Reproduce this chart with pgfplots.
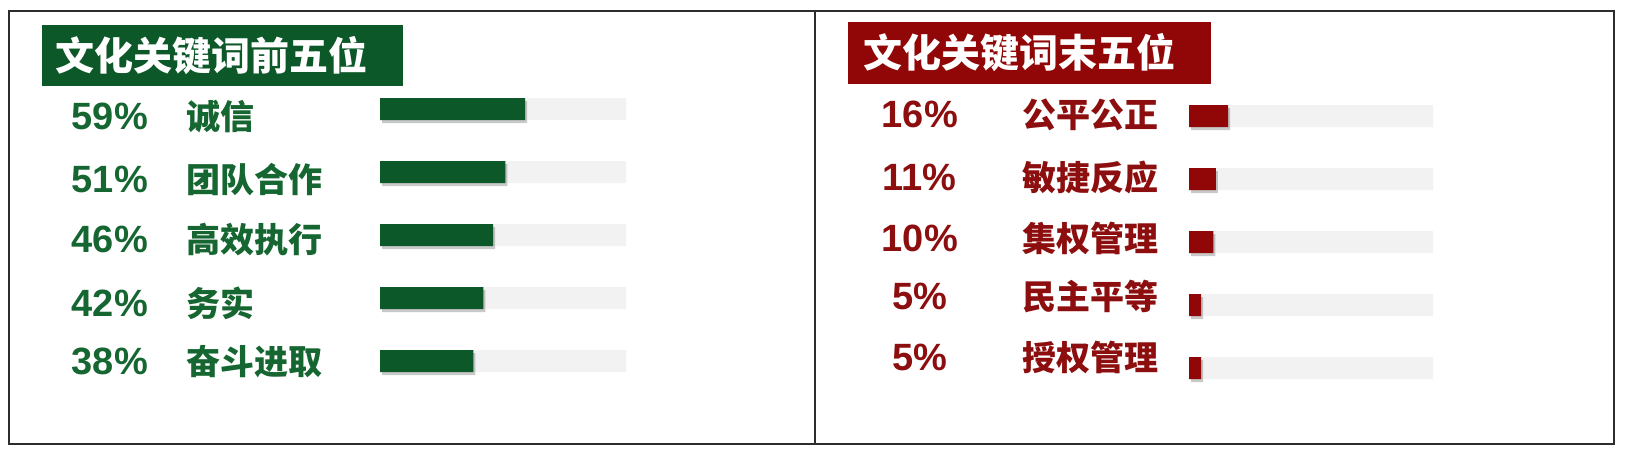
\documentclass[border=0pt]{standalone}
\usepackage{fontspec}
\setmainfont{Liberation Sans}
\newfontfamily\cjk{Noto Sans CJK SC}
\usepackage{pgfplots}
\pgfplotsset{compat=1.18}
\usetikzlibrary{shadows}

\definecolor{topgreen}{RGB}{12,88,40}
\definecolor{topgreentext}{RGB}{22,102,50}
\definecolor{lowred}{RGB}{145,6,6}
\definecolor{lowredtext}{RGB}{140,14,14}
\definecolor{trackgray}{RGB}{242,242,242}
\definecolor{framegray}{RGB}{45,45,45}

% percentage column (centred) + keyword column (left aligned)
\newcommand{\rowlabel}[4]{\makebox[80pt][c]{\fontsize{38}{40}\selectfont\bfseries #1}\hspace{#3}\makebox[#4][l]{\cjk\bfseries\fontsize{34}{40}\selectfont #2}}

\pgfplotsset{
  keywordpanel/.style={
    xbar, bar shift=0pt, bar width=22pt,
    scale only axis, width=#1, height=315pt,
    xmin=0, xmax=100, ymin=0.5, ymax=5.5, y dir=reverse,
    axis line style={draw=none}, tick style={draw=none},
    xtick=\empty, major tick length=0pt,
    yticklabel style={anchor=east, inner sep=0pt},
    clip=false,
  },
  barshadow/.style={drop shadow={shadow xshift=2pt, shadow yshift=-3pt, opacity=.3, fill=black!70}},
}

\begin{document}
\begin{tikzpicture}
\useasboundingbox (0pt,0pt) rectangle (1625pt,450pt);
\draw[framegray, line width=2pt] (9pt,6pt) rectangle (1614pt,439pt);
\draw[framegray, line width=2pt] (815pt,6pt) -- (815pt,439pt);

% left panel: top five
\fill[topgreen] (42pt,364pt) rectangle (403pt,425pt);
\node[anchor=west, inner sep=0pt, text=white, font=\cjk\bfseries\fontsize{39}{44}\selectfont] at (55pt,394.5pt) {文化关键词前五位};

\begin{axis}[keywordpanel=246pt, at={(380pt,57.5pt)}, anchor=south west,
  yticklabel style={text=topgreentext, xshift=-35pt},
  ytick={1.127,2.127,3.08,4.08,5.016},
  yticklabels={{\rowlabel{59\%}{诚信}{37pt}{158pt}},
               {\rowlabel{51\%}{团队合作}{37pt}{158pt}},
               {\rowlabel{46\%}{高效执行}{37pt}{158pt}},
               {\rowlabel{42\%}{务实}{37pt}{158pt}},
               {\rowlabel{38\%}{奋斗进取}{37pt}{158pt}}},
]
\addplot[fill=trackgray, draw=none] coordinates {(100,1) (100,2) (100,3) (100,4) (100,5)};
\addplot[fill=topgreen, draw=none, barshadow] coordinates {(59,1) (51,2) (46,3) (42,4) (38,5)};
\end{axis}

% right panel: bottom five
\fill[lowred] (848pt,366pt) rectangle (1211pt,428pt);
\node[anchor=west, inner sep=0pt, text=white, font=\cjk\bfseries\fontsize{39}{44}\selectfont] at (863pt,397pt) {文化关键词末五位};

\begin{axis}[keywordpanel=244pt, at={(1189pt,50.5pt)}, anchor=south west,
  yticklabel style={text=lowredtext, xshift=-19pt},
  ytick={0.984,1.984,2.937,3.873,4.825},
  yticklabels={{\rowlabel{16\%}{公平公正}{63pt}{147pt}},
               {\rowlabel{11\%}{敏捷反应}{63pt}{147pt}},
               {\rowlabel{10\%}{集权管理}{63pt}{147pt}},
               {\rowlabel{5\%}{民主平等}{63pt}{147pt}},
               {\rowlabel{5\%}{授权管理}{63pt}{147pt}}},
]
\addplot[fill=trackgray, draw=none] coordinates {(100,1) (100,2) (100,3) (100,4) (100,5)};
\addplot[fill=lowred, draw=none, barshadow] coordinates {(16,1) (11,2) (10,3) (5,4) (5,5)};
\end{axis}
\end{tikzpicture}
\end{document}
